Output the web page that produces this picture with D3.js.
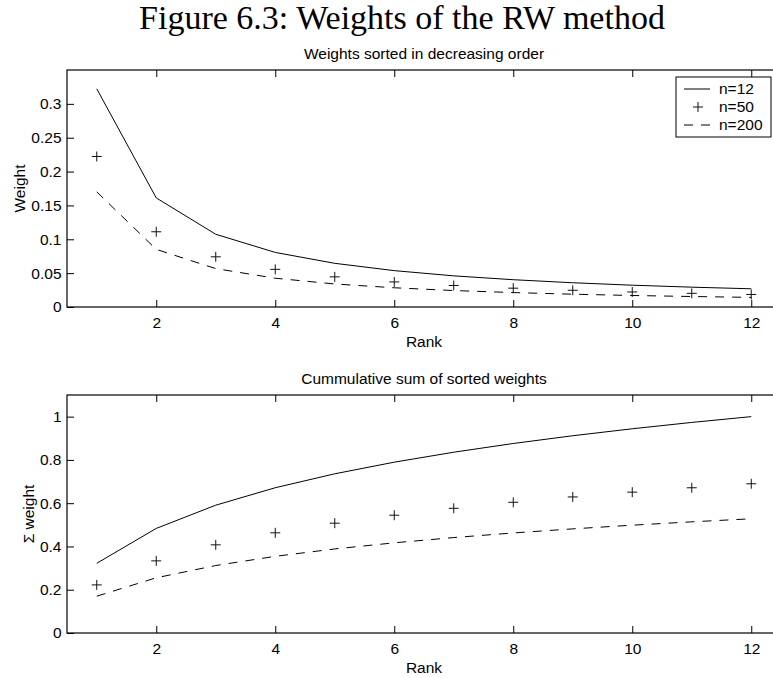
<!DOCTYPE html>
<html>
<head>
<meta charset="utf-8">
<script src="https://cdn.jsdelivr.net/npm/d3@7"></script>
<style>
  html, body { margin: 0; padding: 0; background: #fff; overflow: hidden; }
  svg { display: block; }
  text { fill: #000; }
</style>
</head>
<body>
<svg id="chart" width="773" height="678"></svg>
<script>
// ---------------- data ----------------
const ranks = [1, 2, 3, 4, 5, 6, 7, 8, 9, 10, 11, 12];
const seriesNames = ["n=12", "n=50", "n=200"];

// weights sorted in decreasing order
const w12  = [0.3222, 0.1611, 0.1074, 0.0806, 0.0645, 0.0537, 0.0460, 0.0403, 0.0358, 0.0322, 0.0293, 0.0269];
const w50  = [0.2223, 0.1111, 0.0741, 0.0556, 0.0445, 0.0370, 0.0318, 0.0278, 0.0247, 0.0222, 0.0202, 0.0185];
const w200 = [0.1701, 0.0851, 0.0567, 0.0425, 0.0340, 0.0284, 0.0243, 0.0213, 0.0189, 0.0170, 0.0155, 0.0142];

// cumulative sum of sorted weights
const c12  = [0.3222, 0.4834, 0.5908, 0.6714, 0.7358, 0.7895, 0.8356, 0.8759, 0.9117, 0.9439, 0.9732, 1.0000];
const c50  = [0.2223, 0.3334, 0.4075, 0.4630, 0.5075, 0.5445, 0.5763, 0.6041, 0.6288, 0.6510, 0.6712, 0.6897];
const c200 = [0.1701, 0.2552, 0.3119, 0.3544, 0.3885, 0.4168, 0.4411, 0.4624, 0.4813, 0.4983, 0.5138, 0.5279];

const xTicks = [2, 4, 6, 8, 10, 12];
const yTicksTop = [0, 0.05, 0.1, 0.15, 0.2, 0.25, 0.3];
const yTicksBottom = [0, 0.2, 0.4, 0.6, 0.8, 1];

const figTitle = "Figure 6.3: Weights of the RW method";
const topTitle = "Weights sorted in decreasing order";
const bottomTitle = "Cummulative sum of sorted weights";
const xLabel = "Rank";
const yLabelTop = "Weight";
const yLabelBottom = "\u03A3 weight";

// ---------------- layout ----------------
const svg = d3.select("#chart");
const left = 67, right = 781;
const fs = 15.5;
const sansFont = `${fs}px 'Liberation Sans', Arial, Helvetica, sans-serif`;

svg.append("text")
  .attr("x", 402).attr("y", 29)
  .attr("text-anchor", "middle")
  .style("font", "34px 'Liberation Serif', 'DejaVu Serif', serif")
  .text(figTitle);

function panel(opts) {
  const g = svg.append("g");
  const x = d3.scaleLinear().domain([0.5, 12.5]).range([left, right]);
  const y = d3.scaleLinear().domain(opts.yDomain).range([opts.bottom, opts.top]);

  // box
  g.append("rect")
    .attr("x", left).attr("y", opts.top)
    .attr("width", right - left).attr("height", opts.bottom - opts.top)
    .attr("fill", "none").attr("stroke", "#000").attr("stroke-width", 1.2);

  const tl = 7;
  const xb = d3.axisBottom(x).tickValues(xTicks).tickSize(-tl).tickPadding(9.5).tickFormat(d3.format("d"));
  const gx = g.append("g").attr("transform", `translate(0,${opts.bottom})`).call(xb);
  const xt = d3.axisTop(x).tickValues(xTicks).tickSize(-tl).tickFormat("");
  const gxt = g.append("g").attr("transform", `translate(0,${opts.top})`).call(xt);
  const yl = d3.axisLeft(y).tickValues(opts.yTicks).tickSize(-tl).tickPadding(5.5)
    .tickFormat(d => String(+d.toFixed(2)));
  const gy = g.append("g").attr("transform", `translate(${left},0)`).call(yl);
  const yr = d3.axisRight(y).tickValues(opts.yTicks).tickSize(-tl).tickFormat("");
  const gyr = g.append("g").attr("transform", `translate(${right},0)`).call(yr);

  [gx, gxt, gy, gyr].forEach(a => {
    a.select(".domain").remove();
    a.selectAll("line").attr("stroke", "#000");
    a.selectAll("text").style("font", sansFont).attr("fill", "#000");
  });

  // titles / labels
  g.append("text").attr("x", (left + right) / 2).attr("y", opts.top - 11)
    .attr("text-anchor", "middle").style("font", sansFont)
    .text(opts.title);
  g.append("text").attr("x", (left + right) / 2).attr("y", opts.bottom + 39.5)
    .attr("text-anchor", "middle").style("font", sansFont).text(xLabel);
  g.append("text")
    .attr("transform", `translate(${opts.yLabelX},${(opts.top + opts.bottom) / 2}) rotate(-90)`)
    .attr("text-anchor", "middle").style("font", sansFont).text(opts.yLabel);

  const line = d3.line().x((d, i) => x(ranks[i])).y(d => y(d));
  // n=12 solid
  g.append("path").datum(opts.s12).attr("d", line)
    .attr("fill", "none").attr("stroke", "#000").attr("stroke-width", 1);
  // n=200 dashed
  g.append("path").datum(opts.s200).attr("d", line)
    .attr("fill", "none").attr("stroke", "#000").attr("stroke-width", 1)
    .attr("stroke-dasharray", "9,8");
  // n=50 plus markers
  const m = 5;
  g.selectAll(".plus").data(opts.s50).enter().append("path")
    .attr("d", (d, i) => {
      const cx = x(ranks[i]), cy = y(d);
      return `M${cx - m},${cy}H${cx + m}M${cx},${cy - m}V${cy + m}`;
    })
    .attr("stroke", "#111").attr("stroke-width", 1).attr("fill", "none");

  return g;
}

panel({
  top: 70, bottom: 307, yDomain: [0, 0.35], yTicks: yTicksTop, yLabelX: 24.5,
  title: topTitle, yLabel: yLabelTop, s12: w12, s50: w50, s200: w200
});
panel({
  top: 395, bottom: 633, yDomain: [0, 1.1], yTicks: yTicksBottom, yLabelX: 33.5,
  title: bottomTitle, yLabel: yLabelBottom, s12: c12, s50: c50, s200: c200
});

// legend
const lg = svg.append("g");
const lx = 676, ly = 77, lw = 95, lh = 60;
lg.append("rect").attr("x", lx).attr("y", ly).attr("width", lw).attr("height", lh)
  .attr("fill", "#fff").attr("stroke", "#000").attr("stroke-width", 1);
const rowY = [89, 107, 125];
seriesNames.forEach((name, i) => {
  const yy = rowY[i];
  if (i === 0) {
    lg.append("line").attr("x1", lx + 8).attr("x2", lx + 34).attr("y1", yy).attr("y2", yy)
      .attr("stroke", "#000");
  } else if (i === 1) {
    lg.append("path").attr("d", `M${lx + 17},${yy}H${lx + 27}M${lx + 22},${yy - 5}V${yy + 5}`)
      .attr("stroke", "#111").attr("fill", "none");
  } else {
    lg.append("line").attr("x1", lx + 8).attr("x2", lx + 34).attr("y1", yy).attr("y2", yy)
      .attr("stroke", "#000").attr("stroke-dasharray", "9,8");
  }
  lg.append("text").attr("x", lx + 43).attr("y", yy).attr("dy", "0.35em")
    .style("font", sansFont).text(name);
});
</script>
</body>
</html>
